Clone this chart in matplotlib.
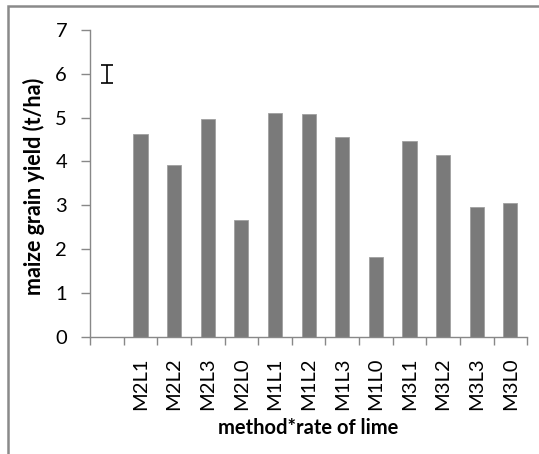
import numpy as np
import matplotlib.pyplot as plt
from matplotlib.patches import Rectangle

# treatment means, first slot is left empty for the LSD bar
labels = ['', 'M2L1', 'M2L2', 'M2L3', 'M2L0', 'M1L1', 'M1L2', 'M1L3', 'M1L0',
          'M3L1', 'M3L2', 'M3L3', 'M3L0']
yields = [np.nan, 4.62, 3.92, 4.97, 2.66, 5.10, 5.08, 4.55, 1.83,
          4.46, 4.15, 2.96, 3.05]
lsd_center = 6.0
lsd_half = 0.2

plt.rcParams['font.family'] = ['Lato', 'DejaVu Sans']

fig = plt.figure(figsize=(5.39, 4.54), dpi=100)
ax = fig.add_axes([0.167, 0.258, 0.811, 0.676])

x = np.arange(len(labels))
ax.bar(x, yields, width=0.42, color='#7a7a7a', edgecolor='#a0a0a0', linewidth=0.6)
ax.errorbar([0], [lsd_center], yerr=[lsd_half], fmt='none', ecolor='black',
            elinewidth=1.2, capsize=4.3, capthick=1.2)

ax.set_xlim(-0.5, len(labels) - 0.5)
ax.set_ylim(0, 7)
ax.set_yticks(range(8))
ax.set_xticks(x)
ax.set_xticklabels(labels, rotation=90, fontsize=14.5)
ax.set_xticks(np.arange(-0.5, len(labels), 1), minor=True)
ax.tick_params(axis='x', which='major', length=0, pad=15)
ax.tick_params(axis='x', which='minor', length=6, color='#888888', width=1)
ax.tick_params(axis='y', length=6.5, color='#888888', width=1, labelsize=14.5, pad=10)

for side in ['top', 'right']:
    ax.spines[side].set_visible(False)
for side in ['left', 'bottom']:
    ax.spines[side].set_color('#888888')
    ax.spines[side].set_linewidth(1)

ax.set_ylabel('maize grain yield (t/ha)', fontsize=15.5, fontweight='bold')
ax.set_xlabel('method*rate of lime', fontsize=14.5, fontweight='bold')
ax.yaxis.set_label_coords(-0.103, 0.49)
ax.xaxis.set_label_coords(0.5, -0.265)

# chart area frame
fig.patches.append(Rectangle((0.0148, -0.1), 1.2, 1.087, transform=fig.transFigure,
                             fill=False, edgecolor='#8a8a8a', linewidth=1.8))

fig.savefig('out.png', dpi=100)
